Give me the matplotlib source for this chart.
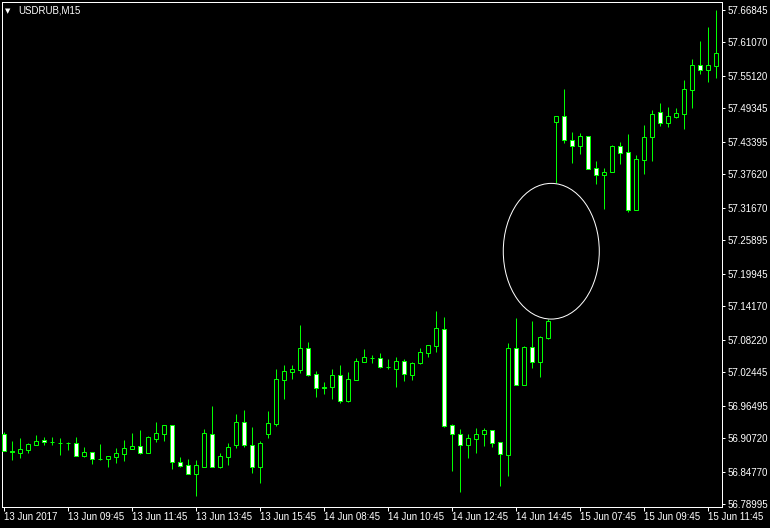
import numpy as np
import matplotlib.pyplot as plt
from matplotlib.patches import Ellipse

# USDRUB M15 bars
opens = [56.9145, 56.8837, 56.8812, 56.8865, 56.8954, 56.9033, 56.9011, 56.8993, 56.8983, 56.8979,
         56.8759, 56.8819, 56.8703, 56.8705, 56.8741, 56.8794, 56.8883, 56.8931, 56.8812, 56.9061,
         56.9150, 56.9299, 56.8647, 56.8588, 56.8439, 56.8563, 56.9139, 56.8558, 56.8741, 56.8954,
         56.9353, 56.8944, 56.8563, 56.9150, 56.9328, 57.0110, 57.0252, 57.0288, 57.0669, 57.0212,
         56.9979, 56.9986, 57.0188, 56.9737, 57.0110, 57.0430, 57.0505, 57.0491, 57.0340, 57.0306,
         57.0437, 57.0199, 57.0412, 57.0590, 57.0715, 57.1006, 56.9299, 56.9139, 56.8954, 56.9061,
         56.9150, 56.9216, 56.9002, 56.8776, 57.0669, 57.0021, 57.0686, 57.0430, 57.0857, 57.4698,
         57.4794, 57.4367, 57.4271, 57.4439, 57.3869, 57.3756, 57.3804, 57.4261, 57.4154, 57.3128,
         57.4022, 57.4421, 57.4865, 57.4680, 57.4787, 57.4840, 57.5267, 57.5701, 57.5612, 57.5694]
highs = [56.9189, 56.9020, 56.9079, 56.8979, 56.9127, 56.9091, 56.9091, 56.9073, 56.9002, 56.9091,
         56.8908, 56.8824, 56.8967, 56.8755, 56.8896, 56.9038, 56.9162, 56.9216, 56.9109, 56.9358,
         56.9305, 56.9305, 56.8735, 56.8700, 56.8682, 56.9233, 56.9642, 56.8807, 56.8979, 56.9500,
         56.9571, 56.9269, 56.9015, 56.9554, 57.0300, 57.0372, 57.0372, 57.1083, 57.0781, 57.0265,
         57.0069, 57.0300, 57.0372, 57.0247, 57.0491, 57.0656, 57.0549, 57.0585, 57.0478, 57.0514,
         57.0473, 57.0420, 57.0674, 57.0727, 57.1332, 57.1225, 56.9317, 56.9233, 56.9139, 56.9251,
         56.9251, 56.9220, 56.9005, 57.0768, 57.1213, 57.0709, 57.1154, 57.0887, 57.1181, 57.4808,
         57.5280, 57.4515, 57.4497, 57.4444, 57.3999, 57.3880, 57.4284, 57.4343, 57.4479, 57.4106,
         57.4639, 57.4906, 57.5031, 57.4960, 57.4947, 57.5440, 57.5813, 57.6133, 57.6382, 57.6685]
lows = [56.8842, 56.8682, 56.8723, 56.8801, 56.8949, 56.8954, 56.8949, 56.8776, 56.8865, 56.8753,
        56.8741, 56.8616, 56.8691, 56.8563, 56.8629, 56.8664, 56.8878, 56.8794, 56.8807, 56.9008,
        56.9025, 56.8527, 56.8552, 56.8433, 56.8042, 56.8558, 56.8558, 56.8540, 56.8593, 56.8901,
        56.8913, 56.8451, 56.8279, 56.9079, 56.9292, 56.9772, 57.0123, 57.0235, 57.0181, 56.9802,
        56.9856, 56.9772, 56.9701, 56.9719, 57.0105, 57.0425, 57.0407, 57.0324, 57.0300, 56.9980,
        57.0087, 57.0105, 57.0395, 57.0519, 57.0603, 56.9269, 56.8487, 56.8118, 56.8723, 56.8812,
        56.8931, 56.8919, 56.8225, 56.8403, 57.0016, 57.0016, 57.0324, 57.0163, 57.0834, 57.3603,
        57.4314, 57.3969, 57.4129, 57.3852, 57.3596, 57.3151, 57.3798, 57.3946, 57.3092, 57.3123,
        57.3773, 57.4005, 57.4622, 57.4604, 57.4769, 57.4574, 57.4942, 57.5552, 57.5409, 57.5481]
closes = [56.8848, 56.8819, 56.8878, 56.8967, 56.9015, 56.8997, 56.9004, 56.8986, 56.8976, 56.8759,
          56.8819, 56.8705, 56.8696, 56.8753, 56.8807, 56.8890, 56.8931, 56.8812, 56.9091, 56.9157,
          56.9299, 56.8641, 56.8581, 56.8439, 56.8588, 56.9157, 56.8563, 56.8748, 56.8908, 56.9353,
          56.8954, 56.8563, 56.8979, 56.9335, 57.0117, 57.0265, 57.0300, 57.0669, 57.0199, 56.9968,
          56.9971, 57.0188, 56.9737, 57.0117, 57.0437, 57.0508, 57.0498, 57.0341, 57.0332, 57.0437,
          57.0206, 57.0402, 57.0597, 57.0722, 57.1024, 56.9292, 56.9150, 56.8954, 56.9073, 56.9145,
          56.9216, 56.8990, 56.8794, 57.0674, 57.0021, 57.0686, 57.0430, 57.0864, 57.1159, 57.4800,
          57.4367, 57.4261, 57.4439, 57.3862, 57.3745, 57.3804, 57.4271, 57.4147, 57.3128, 57.4029,
          57.4426, 57.4830, 57.4670, 57.4794, 57.4848, 57.5274, 57.5701, 57.5612, 57.5701, 57.5920]

time_labels = ["13 Jun 2017", "13 Jun 09:45", "13 Jun 11:45", "13 Jun 13:45", "13 Jun 15:45",
               "14 Jun 08:45", "14 Jun 10:45", "14 Jun 12:45", "14 Jun 14:45",
               "15 Jun 07:45", "15 Jun 09:45", "15 Jun 11:45"]
price_ticks = [57.66845, 57.61070, 57.55120, 57.49345, 57.43395, 57.37620, 57.31670, 57.25895,
               57.19945, 57.14170, 57.08220, 57.02445, 56.96495, 56.90720, 56.84770, 56.78995]

GREEN = "#00ff00"
px = 0.72  # one pixel in points at dpi 100

fig = plt.figure(figsize=(7.7, 5.28), dpi=100, facecolor="black")
ax = fig.add_axes([2 / 770, 21.3 / 528, 720 / 770, 504.7 / 528])
ax.set_facecolor("black")

o = np.array(opens)
h = np.array(highs)
l = np.array(lows)
c = np.array(closes)
x = np.arange(len(o))

# wicks first, bodies on top
ax.vlines(x, l, h, color=GREEN, linewidth=px, zorder=2)
bottoms = np.minimum(o, c)
heights = np.abs(c - o)
faces = ["black" if cc > oo else "white" for oo, cc in zip(o, c)]
ax.bar(x, heights, bottom=bottoms, width=0.5, color=faces, edgecolor=GREEN,
       linewidth=px, zorder=3)

# the circle around the gap
ax.add_patch(Ellipse((68.47, 57.2395), 12.0, 0.2413, fill=False,
                     edgecolor="white", linewidth=px, zorder=4))

ax.set_xlim(-0.19, 89.81)
ax.set_ylim(56.7852, 57.6827)

for sp in ax.spines.values():
    sp.set_color("white")
    sp.set_linewidth(px)

ax.yaxis.tick_right()
ax.set_yticks(price_ticks)
ax.set_yticklabels([f"{v:.5f}" for v in price_ticks])
ax.tick_params(axis="y", colors="white", length=2.2, width=px, pad=1.5,
               labelsize=7, labelcolor="white")

ax.set_xticks(x[::8])
ax.set_xticklabels(time_labels, ha="left")
ax.tick_params(axis="x", colors="white", length=2.9, width=px, pad=1.2,
               labelsize=7, labelcolor="white")
for t in ax.get_xticklabels() + ax.get_yticklabels():
    t.set_fontfamily("Liberation Sans")

fig.text(5 / 770, 1 - 10.7 / 528, "▼", color="white", fontsize=5,
         family="DejaVu Sans", va="center", ha="left")
fig.text(18 / 770, 1 - 10.7 / 528, "USDRUB,M15", color="white", fontsize=7,
         family="Liberation Sans", va="center", ha="left")

fig.savefig("out.png", dpi=100, facecolor="black")
